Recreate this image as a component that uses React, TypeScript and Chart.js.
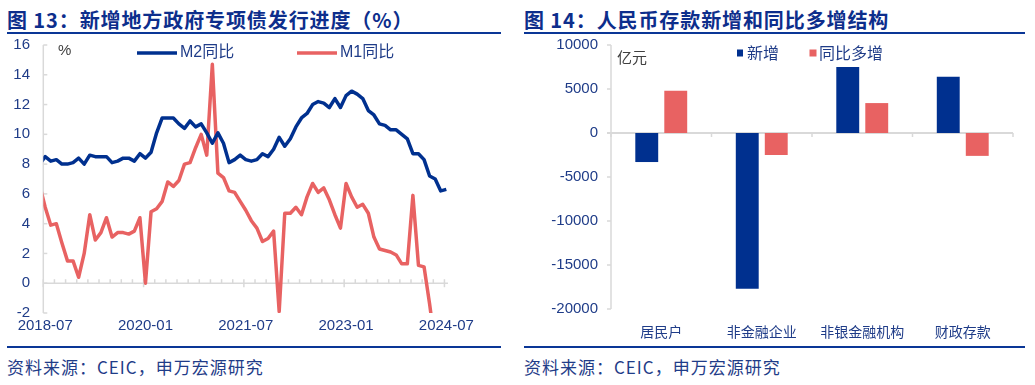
import React, { useEffect, useRef } from "react";
import { Chart, registerables } from "chart.js";

Chart.register(...registerables);

// ---------- Left chart data (monthly, %) ----------
const months = [
  "2018-06", "2018-07", "2018-08", "2018-09", "2018-10", "2018-11", "2018-12",
  "2019-01", "2019-02", "2019-03", "2019-04", "2019-05", "2019-06", "2019-07", "2019-08", "2019-09", "2019-10", "2019-11", "2019-12",
  "2020-01", "2020-02", "2020-03", "2020-04", "2020-05", "2020-06", "2020-07", "2020-08", "2020-09", "2020-10", "2020-11", "2020-12",
  "2021-01", "2021-02", "2021-03", "2021-04", "2021-05", "2021-06", "2021-07", "2021-08", "2021-09", "2021-10", "2021-11", "2021-12",
  "2022-01", "2022-02", "2022-03", "2022-04", "2022-05", "2022-06", "2022-07", "2022-08", "2022-09", "2022-10", "2022-11", "2022-12",
  "2023-01", "2023-02", "2023-03", "2023-04", "2023-05", "2023-06", "2023-07", "2023-08", "2023-09", "2023-10", "2023-11", "2023-12",
  "2024-01", "2024-02", "2024-03", "2024-04", "2024-05", "2024-06", "2024-07",
];

const m2Values = [
  8.0, 8.5, 8.2, 8.3, 8.0, 8.0, 8.1,
  8.4, 8.0, 8.6, 8.5, 8.5, 8.5, 8.1, 8.2, 8.4, 8.4, 8.2, 8.7,
  8.4, 8.8, 10.1, 11.1, 11.1, 11.1, 10.7, 10.4, 10.9, 10.5, 10.7, 10.1,
  9.4, 10.1, 9.4, 8.1, 8.3, 8.6, 8.3, 8.2, 8.3, 8.7, 8.5, 9.0,
  9.8, 9.2, 9.7, 10.5, 11.1, 11.4, 12.0, 12.2, 12.1, 11.8, 12.4, 11.8,
  12.6, 12.9, 12.7, 12.4, 11.6, 11.3, 10.7, 10.6, 10.3, 10.3, 10.0, 9.7,
  8.7, 8.7, 8.3, 7.2, 7.0, 6.2, 6.3,
];

const m1Values = [
  6.6, 5.1, 3.9, 4.0, 2.7, 1.5, 1.5,
  0.4, 2.0, 4.6, 2.9, 3.4, 4.4, 3.1, 3.4, 3.4, 3.3, 3.5, 4.4,
  0.0, 4.8, 5.0, 5.5, 6.8, 6.5, 6.9, 8.0, 8.1, 9.1, 10.0, 8.6,
  14.7, 7.4, 7.1, 6.2, 6.1, 5.5, 4.9, 4.2, 3.7, 2.8, 3.0, 3.5,
  -1.9, 4.7, 4.7, 5.1, 4.6, 5.8, 6.7, 6.1, 6.4, 5.6, 4.6, 3.7,
  6.7, 5.8, 5.1, 5.3, 4.7, 3.1, 2.3, 2.2, 2.1, 1.9, 1.3, 1.3,
  5.9, 1.2, 1.1, -1.4, -4.2, -5.0, -6.6,
];

const xTickLabels = ["2018-07", "2020-01", "2021-07", "2023-01", "2024-07"];
const leftSeriesNames = ["M2同比", "M1同比"];

// ---------- Right chart data (亿元) ----------
const depositCategories = ["居民户", "非金融企业", "非银金融机构", "财政存款"];
const newDeposits = [-3300, -17700, 7500, 6400];
const yoyExtraDeposits = [4800, -2500, 3400, -2600];
const rightSeriesNames = ["新增", "同比多增"];

// ---------- Styles ----------
const BLUE = "#00308F";
const RED = "#E86262";
const AXIS = "#D9D9D9";
const TEXT = "#1F3C88";
const UNIT = "#404040";
const LATIN = "'Liberation Sans', 'Noto Sans CJK SC', sans-serif";
const CJK = "'Noto Sans CJK SC', 'Liberation Sans', sans-serif";

function seg(ctx: CanvasRenderingContext2D, x1: number, y1: number, x2: number, y2: number) {
  ctx.beginPath();
  ctx.moveTo(x1, y1);
  ctx.lineTo(x2, y2);
  ctx.stroke();
}

const leftAxesPlugin = {
  id: "leftAxes",
  beforeDatasetsDraw(chart: any) {
    const { ctx, chartArea: a, scales } = chart;
    const x = scales.x;
    const y = scales.y;
    ctx.save();
    ctx.strokeStyle = AXIS;
    ctx.lineWidth = 1.5;
    seg(ctx, a.left, a.top, a.left, a.bottom);
    y.ticks.forEach((t: any) => {
      const py = y.getPixelForValue(t.value);
      seg(ctx, a.left, py, a.left + 4, py);
    });
    const y0 = y.getPixelForValue(0);
    seg(ctx, a.left, y0, a.right, y0);
    let n = 0;
    for (let v = x.min; v <= x.max + 1e-6; v += 2, n++) {
      const px = x.getPixelForValue(v);
      if (n % 9 === 0) seg(ctx, px, y0 - 4, px, y0 + 4);
      else seg(ctx, px, y0 - 4, px, y0);
    }
    ctx.restore();
  },
};

const rightAxesPlugin = {
  id: "rightAxes",
  beforeDatasetsDraw(chart: any) {
    const { ctx, chartArea: a, scales } = chart;
    const y = scales.y;
    ctx.save();
    ctx.strokeStyle = AXIS;
    ctx.lineWidth = 1.5;
    seg(ctx, a.left, a.top, a.left, a.bottom);
    y.ticks.forEach((t: any) => {
      const py = y.getPixelForValue(t.value);
      if (t.value !== 0) seg(ctx, a.left - 4, py, a.left, py);
    });
    const y0 = y.getPixelForValue(0);
    ctx.lineWidth = 2;
    seg(ctx, a.left - 4, y0, a.right, y0);
    ctx.lineWidth = 1.5;
    const n = chart.data.labels.length;
    for (let i = 0; i <= n; i++) {
      const px = a.left + ((a.right - a.left) * i) / n;
      seg(ctx, px, y0, px, y0 + 4);
    }
    ctx.restore();
  },
};

const customLegendPlugin = {
  id: "customLegend",
  afterDraw(chart: any, _args: any, opts: any) {
    const ctx = chart.ctx as CanvasRenderingContext2D;
    ctx.save();
    ctx.textBaseline = "middle";
    ctx.textAlign = "left";
    (opts.items || []).forEach((it: any, i: number) => {
      const ds = chart.data.datasets[i];
      if (it.type === "line") {
        ctx.strokeStyle = ds.borderColor;
        ctx.lineWidth = ds.borderWidth;
        seg(ctx, it.x, it.y, it.x + it.w, it.y);
      } else {
        ctx.fillStyle = ds.backgroundColor;
        ctx.fillRect(it.x, it.y - it.h / 2, it.w, it.h);
      }
      ctx.font = opts.font;
      ctx.fillStyle = opts.color;
      ctx.fillText(ds.label, it.tx, it.y);
    });
    if (opts.unit) {
      ctx.font = opts.unit.font;
      ctx.fillStyle = opts.unit.color;
      ctx.fillText(opts.unit.text, opts.unit.x, opts.unit.y);
    }
    ctx.restore();
  },
};

// remove Chart.js' automatic label overhang padding so the plot area sits exactly where set
const fixVertical = (width: number) => (scale: any) => {
  scale.width = width;
  scale.paddingTop = 0;
  scale.paddingBottom = 0;
};
const fixHorizontal = (height: number) => (scale: any) => {
  scale.height = height;
  scale.paddingLeft = 0;
  scale.paddingRight = 0;
};

const titleStyle = (left: number): React.CSSProperties => ({
  position: "absolute",
  left,
  top: 8,
  fontFamily: CJK,
  fontWeight: 700,
  fontSize: 20,
  lineHeight: "24px",
  letterSpacing: "0.9px",
  color: "#0D2E8C",
  whiteSpace: "nowrap",
});

const ruleStyle = (left: number, top: number, width: number): React.CSSProperties => ({
  position: "absolute",
  left,
  top,
  width,
  height: 2,
  background: "#0A3696",
});

const sourceStyle = (left: number): React.CSSProperties => ({
  position: "absolute",
  left,
  top: 356,
  fontFamily: CJK,
  fontSize: 17,
  lineHeight: "22px",
  letterSpacing: "1px",
  color: "#1F3C88",
  whiteSpace: "nowrap",
});

export default function App() {
  const leftRef = useRef<HTMLCanvasElement>(null);
  const rightRef = useRef<HTMLCanvasElement>(null);

  useEffect(() => {
    const startIdx = months.indexOf("2018-07");
    const endIdx = months.indexOf("2024-07");

    const left = new Chart(leftRef.current as HTMLCanvasElement, {
      type: "line",
      data: {
        datasets: [
          {
            label: leftSeriesNames[0],
            data: m2Values.map((v, i) => ({ x: i, y: v })),
            borderColor: BLUE,
            backgroundColor: BLUE,
            borderWidth: 3.5,
            pointRadius: 0,
            tension: 0,
            borderJoinStyle: "round",
          },
          {
            label: leftSeriesNames[1],
            data: m1Values.map((v, i) => ({ x: i, y: v })),
            borderColor: RED,
            backgroundColor: RED,
            borderWidth: 3.5,
            pointRadius: 0,
            tension: 0,
            borderJoinStyle: "round",
          },
        ],
      },
      options: {
        animation: false,
        responsive: false,
        devicePixelRatio: 1,
        layout: { padding: { top: 11, left: 0, right: 67, bottom: 0 } },
        plugins: {
          legend: { display: false },
          tooltip: { enabled: false },
          customLegend: {
            font: `16px ${LATIN}`,
            color: TEXT,
            items: [
              { type: "line", x: 137, y: 19, w: 40, tx: 180 },
              { type: "line", x: 297, y: 19, w: 40, tx: 340 },
            ],
            unit: { text: "%", x: 58, y: 17, font: `15px ${LATIN}`, color: UNIT },
          },
        } as any,
        scales: {
          x: {
            type: "linear",
            min: startIdx - 0.34,
            max: endIdx + 0.3,
            grid: { display: false, drawTicks: false },
            border: { display: false },
            afterBuildTicks: (scale: any) => {
              scale.ticks = xTickLabels.map((l) => ({ value: months.indexOf(l) }));
            },
            afterFit: fixHorizontal(31),
            ticks: {
              autoSkip: false,
              maxRotation: 0,
              minRotation: 0,
              padding: 3.8,
              color: TEXT,
              font: { family: LATIN, size: 15 },
              callback: (v: any) => months[Math.round(Number(v))],
            },
          },
          y: {
            min: -2,
            max: 16,
            grid: { display: false, drawTicks: false },
            border: { display: false },
            afterFit: fixVertical(43.3),
            ticks: {
              stepSize: 2,
              padding: 13.3,
              color: TEXT,
              font: { family: LATIN, size: 15 },
              callback: (v: any) => String(v),
            },
          },
        },
      },
      plugins: [leftAxesPlugin, customLegendPlugin],
    } as any);

    const right = new Chart(rightRef.current as HTMLCanvasElement, {
      type: "bar",
      data: {
        labels: depositCategories,
        datasets: [
          {
            label: rightSeriesNames[0],
            data: newDeposits,
            backgroundColor: BLUE,
            categoryPercentage: 0.577,
            barPercentage: 0.79,
          },
          {
            label: rightSeriesNames[1],
            data: yoyExtraDeposits,
            backgroundColor: RED,
            categoryPercentage: 0.577,
            barPercentage: 0.79,
          },
        ],
      },
      options: {
        animation: false,
        responsive: false,
        devicePixelRatio: 1,
        layout: { padding: { top: 11, left: 0, right: 22, bottom: 0 } },
        plugins: {
          legend: { display: false },
          tooltip: { enabled: false },
          customLegend: {
            font: `16px ${CJK}`,
            color: TEXT,
            items: [
              { type: "box", x: 222, y: 19, w: 6, h: 7, tx: 232 },
              { type: "box", x: 294.5, y: 19, w: 7, h: 7, tx: 304 },
            ],
            unit: { text: "亿元", x: 102, y: 23, font: `15px ${CJK}`, color: UNIT },
          },
        } as any,
        scales: {
          x: {
            grid: { display: false, drawTicks: false },
            border: { display: false },
            afterFit: fixHorizontal(35),
            ticks: {
              padding: 14.3,
              color: TEXT,
              font: { family: CJK, size: 14 },
            },
          },
          y: {
            min: -20000,
            max: 10000,
            grid: { display: false, drawTicks: false },
            border: { display: false },
            afterFit: fixVertical(96),
            ticks: {
              stepSize: 5000,
              padding: 13,
              color: TEXT,
              font: { family: LATIN, size: 15 },
              callback: (v: any) => String(v),
            },
          },
        },
      },
      plugins: [rightAxesPlugin, customLegendPlugin],
    } as any);

    return () => {
      left.destroy();
      right.destroy();
    };
  }, []);

  return (
    <div
      style={{
        position: "fixed",
        left: 0,
        top: 0,
        width: 1035,
        height: 385,
        background: "#ffffff",
        overflow: "hidden",
      }}
    >
      <div style={titleStyle(7)}>图 13：新增地方政府专项债发行进度（%）</div>
      <div style={titleStyle(524)}>图 14：人民币存款新增和同比多增结构</div>
      <div style={ruleStyle(7, 32, 494)} />
      <div style={ruleStyle(524, 32, 501)} />
      <canvas
        ref={leftRef}
        width={515}
        height={310}
        style={{ position: "absolute", left: 0, top: 34, width: 515, height: 310 }}
      />
      <canvas
        ref={rightRef}
        width={520}
        height={310}
        style={{ position: "absolute", left: 515, top: 34, width: 520, height: 310 }}
      />
      <div style={ruleStyle(7, 346, 494)} />
      <div style={ruleStyle(524, 346, 501)} />
      <div style={sourceStyle(7)}>资料来源：CEIC，申万宏源研究</div>
      <div style={sourceStyle(524)}>资料来源：CEIC，申万宏源研究</div>
    </div>
  );
}
